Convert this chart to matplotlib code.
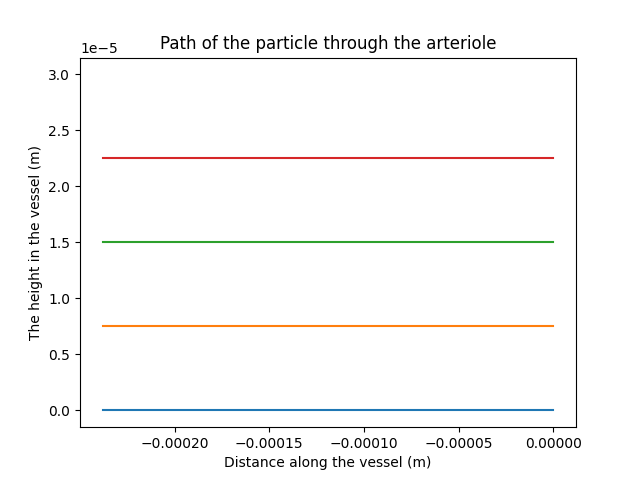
import matplotlib
matplotlib.use("Agg")
import matplotlib.pyplot as plt

# start / end of each particle path
x_start = -0.000238
x_end = 0.0
heights = [0.0, 0.75e-5, 1.5e-5, 2.25e-5]
# last particle sits at the wall and never moves
wall_height = 3.0e-5

fig, ax = plt.subplots(figsize=(6.4, 4.8), dpi=100)
for h in heights:
    ax.plot([x_start, x_end], [h, h])
ax.plot([x_end], [wall_height])

ax.set_title("Path of the particle through the arteriole")
ax.set_xlabel("Distance along the vessel (m)")
ax.set_ylabel("The height in the vessel (m)")
fig.savefig("out.png")
